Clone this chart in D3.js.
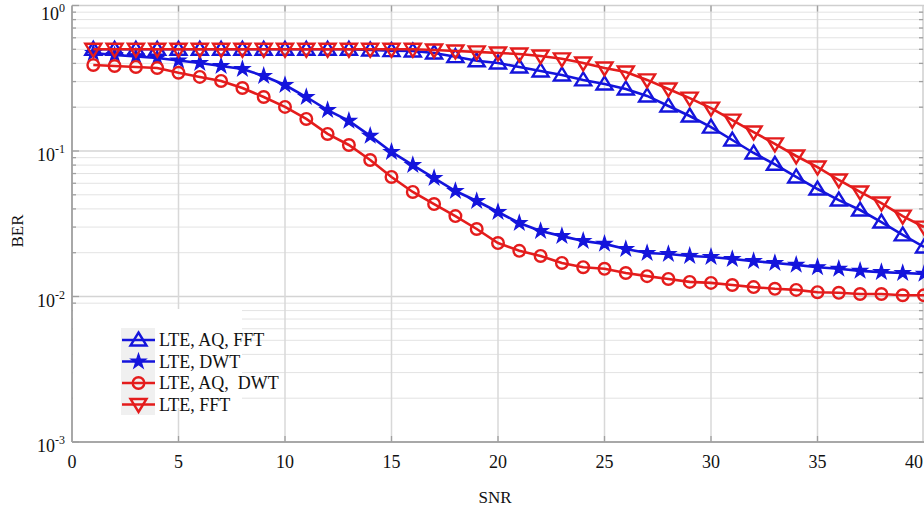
<!DOCTYPE html>
<html>
<head>
<meta charset="utf-8">
<script src="https://cdn.jsdelivr.net/npm/d3@7/dist/d3.min.js"></script>
<style>
  html, body { margin: 0; padding: 0; background: #fff; }
  svg { display: block; font-family: "Liberation Serif", "Times New Roman", serif; }
</style>
</head>
<body>
<svg id="chart" width="924" height="514"></svg>
<script>
// SNR points (dB)
const snr = d3.range(1, 41);

// BER per scheme, one value per SNR point
const berAqFft = [0.50, 0.50, 0.50, 0.50, 0.50, 0.50, 0.50, 0.50, 0.50, 0.50,
                  0.50, 0.50, 0.50, 0.495, 0.49, 0.487, 0.472, 0.445, 0.417, 0.403,
                  0.378, 0.355, 0.333, 0.308, 0.289, 0.267, 0.239, 0.204, 0.174, 0.146,
                  0.119, 0.0969, 0.081, 0.0663, 0.0548, 0.046, 0.0393, 0.0325, 0.0265, 0.0219];
const berDwt   = [0.472, 0.457, 0.447, 0.436, 0.419, 0.403, 0.384, 0.366, 0.328, 0.284,
                  0.235, 0.191, 0.161, 0.127, 0.0985, 0.0801, 0.0652, 0.0531, 0.0453, 0.0381,
                  0.0320, 0.0282, 0.0260, 0.0241, 0.0230, 0.0212, 0.0199, 0.0196, 0.0190, 0.0187,
                  0.0181, 0.0175, 0.0170, 0.0165, 0.0159, 0.0155, 0.0150, 0.0147, 0.0145, 0.0143];
const berAqDwt = [0.390, 0.384, 0.378, 0.372, 0.345, 0.323, 0.303, 0.271, 0.235, 0.201,
                  0.166, 0.131, 0.110, 0.0867, 0.0663, 0.0523, 0.0432, 0.0357, 0.0291, 0.0233,
                  0.0206, 0.0190, 0.0170, 0.0159, 0.0155, 0.0145, 0.0138, 0.0132, 0.0126, 0.0124,
                  0.0120, 0.0116, 0.0113, 0.0111, 0.0107, 0.0106, 0.0104, 0.0104, 0.0102, 0.0102];
const berFft   = [0.50, 0.50, 0.50, 0.50, 0.50, 0.50, 0.50, 0.50, 0.50, 0.50,
                  0.50, 0.50, 0.50, 0.50, 0.50, 0.50, 0.495, 0.487, 0.48, 0.472,
                  0.464, 0.45, 0.43, 0.403, 0.372, 0.349, 0.308, 0.267, 0.231, 0.197,
                  0.163, 0.135, 0.112, 0.0924, 0.0776, 0.0632, 0.0523, 0.0439, 0.0357, 0.030];

const seriesNames = ["LTE, AQ, FFT", "LTE, DWT", "LTE, AQ,  DWT", "LTE, FFT"];
const seriesColors = ["#1414dc", "#1414dc", "#e41c1c", "#e41c1c"];
const seriesMarkers = ["triUp", "star", "circle", "triDown"];
const seriesValues = [berAqFft, berDwt, berAqDwt, berFft];

const xTicks = [0, 5, 10, 15, 20, 25, 30, 35, 40];
const yDecades = [0, -1, -2, -3];

const svg = d3.select("#chart");
const pL = 72, pR = 924, pT = 5.5, pB = 442;

const x = d3.scaleLinear().domain([0, 40]).range([pL, pR]);
const y = d3.scaleLog().domain([1e-3, 1]).range([pB, pT]);

// minor log values between decades
const minorVals = [];
for (let e = -3; e < 0; e++) for (let m = 2; m <= 9; m++) minorVals.push(m * Math.pow(10, e));

const grid = svg.append("g");
grid.selectAll("line.minor").data(minorVals).join("line")
  .attr("x1", pL).attr("x2", pR)
  .attr("y1", d => y(d)).attr("y2", d => y(d))
  .attr("stroke", "#e3e3e3").attr("stroke-width", 1);
grid.selectAll("line.major").data([1e-1, 1e-2]).join("line")
  .attr("x1", pL).attr("x2", pR)
  .attr("y1", d => y(d)).attr("y2", d => y(d))
  .attr("stroke", "#d4d4d4").attr("stroke-width", 1.3);
grid.selectAll("line.vert").data(xTicks.filter(t => t > 0 && t < 40)).join("line")
  .attr("x1", d => x(d)).attr("x2", d => x(d))
  .attr("y1", pT).attr("y2", pB)
  .attr("stroke", "#d8d8d8").attr("stroke-width", 1.5);

// frame
svg.append("line").attr("x1", pL).attr("x2", pR).attr("y1", pT).attr("y2", pT)
  .attr("stroke", "#cfcfcf").attr("stroke-width", 1.5);
svg.append("line").attr("x1", pR - 1).attr("x2", pR - 1).attr("y1", pT).attr("y2", pB)
  .attr("stroke", "#cfcfcf").attr("stroke-width", 1.5);
svg.append("line").attr("x1", pL).attr("x2", pR).attr("y1", pB).attr("y2", pB)
  .attr("stroke", "#a8a8a8").attr("stroke-width", 2);
svg.append("line").attr("x1", pL).attr("x2", pL).attr("y1", pT).attr("y2", pB)
  .attr("stroke", "#a8a8a8").attr("stroke-width", 2);

// inward ticks
const ticks = svg.append("g").attr("stroke", "#a0a0a0").attr("stroke-width", 1.3);
ticks.selectAll("line.ym").data(minorVals).join("line")
  .attr("x1", pL).attr("x2", pL + 4).attr("y1", d => y(d)).attr("y2", d => y(d));
ticks.selectAll("line.yM").data(yDecades).join("line")
  .attr("x1", pL).attr("x2", pL + 7).attr("y1", d => y(Math.pow(10, d))).attr("y2", d => y(Math.pow(10, d)));
ticks.selectAll("line.ymr").data(minorVals).join("line")
  .attr("x1", pR - 5).attr("x2", pR - 1).attr("y1", d => y(d)).attr("y2", d => y(d));
ticks.selectAll("line.xb").data(xTicks.filter(t => t > 0 && t < 40)).join("line")
  .attr("x1", d => x(d)).attr("x2", d => x(d)).attr("y1", pB).attr("y2", pB - 6);
ticks.selectAll("line.xt").data(xTicks.filter(t => t > 0 && t < 40)).join("line")
  .attr("x1", d => x(d)).attr("x2", d => x(d)).attr("y1", pT).attr("y2", pT + 6);

// tick labels (the last one is kept inside the right edge)
svg.append("g").selectAll("text").data(xTicks).join("text")
  .attr("x", d => d === 40 ? x(d) - 1 : x(d)).attr("y", 468)
  .attr("text-anchor", d => d === 40 ? "end" : "middle")
  .attr("font-size", 18).attr("fill", "#111")
  .text(d => d);

const yl = svg.append("g").selectAll("text").data(yDecades).join("text")
  .attr("x", 65).attr("y", d => Math.max(y(Math.pow(10, d)) + 10, 20))
  .attr("text-anchor", "end").attr("font-size", 18).attr("fill", "#111");
yl.append("tspan").text("10");
yl.append("tspan").attr("font-size", 12).attr("dy", -8).text(d => String(d));

svg.append("text").attr("x", 495).attr("y", 503).attr("text-anchor", "middle")
  .attr("font-size", 17).attr("fill", "#111").text("SNR");
svg.append("text").attr("transform", "translate(23,231) rotate(-90)")
  .attr("text-anchor", "middle").attr("font-size", 17).attr("fill", "#111").text("BER");

// marker shapes
function drawMarker(sel, kind, color) {
  if (kind === "triUp") {
    sel.append("path").attr("d", "M0,-7.5L8,5.5L-8,5.5Z")
      .attr("fill", "none").attr("stroke", color).attr("stroke-width", 2.4);
  } else if (kind === "triDown") {
    sel.append("path").attr("d", "M0,7.5L8,-5.5L-8,-5.5Z")
      .attr("fill", "none").attr("stroke", color).attr("stroke-width", 2.4);
  } else if (kind === "star") {
    sel.append("path").attr("d", d3.symbol(d3.symbolStar, 70)())
      .attr("fill", color).attr("stroke", color).attr("stroke-width", 1.2);
  } else {
    sel.append("circle").attr("r", 5.8)
      .attr("fill", "none").attr("stroke", color).attr("stroke-width", 2.4);
  }
}

const line = d3.line().x((d, i) => x(snr[i])).y(d => y(d));

const plot = svg.append("g");
seriesValues.forEach((vals, k) => {
  const g = plot.append("g");
  g.append("path").attr("d", line(vals))
    .attr("fill", "none").attr("stroke", seriesColors[k]).attr("stroke-width", 2.6);
  const m = g.selectAll("g.m").data(vals).join("g")
    .attr("transform", (d, i) => `translate(${x(snr[i])},${y(d)})`);
  drawMarker(m, seriesMarkers[k], seriesColors[k]);
});

// legend
const lg = svg.append("g");
lg.append("rect").attr("x", 73).attr("y", 309).attr("width", 169).attr("height", 99).attr("fill", "#fff");
lg.append("rect").attr("x", 121).attr("y", 328).attr("width", 34).attr("height", 87).attr("fill", "#f0f0f0");
const rowY = [340, 361.5, 383, 404.5];
seriesNames.forEach((name, k) => {
  const r = lg.append("g").attr("transform", `translate(0,${rowY[k]})`);
  r.append("line").attr("x1", 122).attr("x2", 155).attr("y1", 0).attr("y2", 0)
    .attr("stroke", seriesColors[k]).attr("stroke-width", 2.6);
  const mk = r.append("g").attr("transform", "translate(138.5,0)");
  drawMarker(mk, seriesMarkers[k], seriesColors[k]);
  r.append("text").attr("x", 159).attr("y", 6).attr("font-size", 18).attr("fill", "#111")
    .style("white-space", "pre").text(name);
});
</script>
</body>
</html>
